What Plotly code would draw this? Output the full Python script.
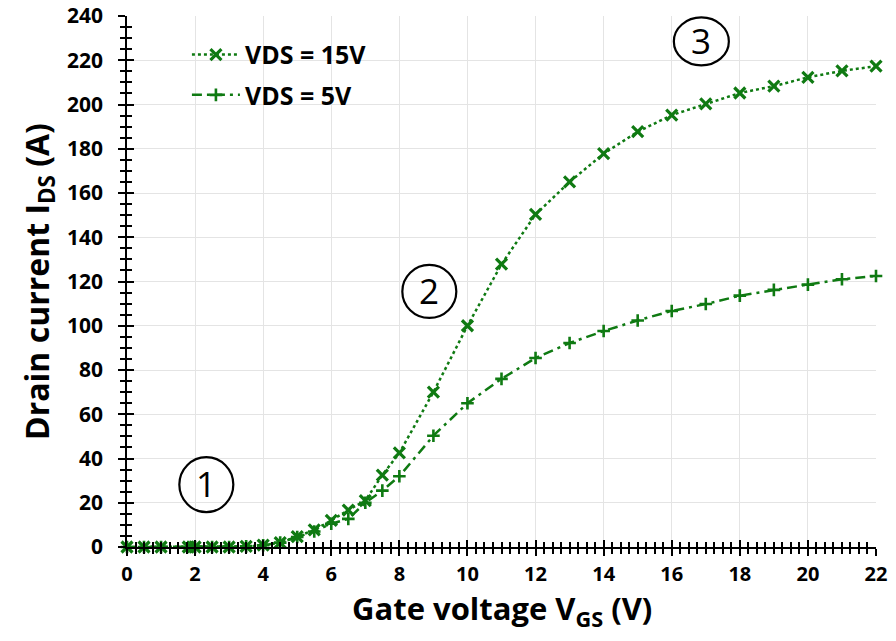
import plotly.graph_objects as go

# ---- data ----
vgs = [0, 0.5, 1, 1.8, 2, 2.5, 3, 3.5, 4, 4.5, 5, 5.5, 6, 6.5, 7, 7.5, 8,
       9, 10, 11, 12, 13, 14, 15, 16, 17, 18, 19, 20, 21, 22]
ids_vds15 = [0, 0, 0, 0, 0, 0, 0, 0.3, 0.8, 2, 4.7, 7.7, 12, 16.7, 21, 32.5, 42.5,
             70, 100, 127.8, 150.3, 165, 177.8, 187.7, 195.2, 200.3, 205.2, 208.3, 212.3, 215.2, 217.3]
ids_vds5 = [0, 0, 0, 0, 0, 0, 0, 0.3, 0.8, 2, 4.5, 7, 10.5, 12.7, 20, 25.5, 32,
            50.3, 65, 76, 85.4, 92.2, 97.6, 102.4, 106.7, 109.8, 113.6, 116.2, 118.6, 121, 122.5]
series_names = ["VDS = 15V", "VDS = 5V"]
x_title = "Gate voltage V<sub>GS</sub> (V)"
y_title = "Drain current I<sub>DS</sub> (A)"

# region labels (circled numbers): text, x (V), y (A)
region_labels = ["1", "2", "3"]
region_x = [2.33, 8.88, 16.87]
region_y = [28.2, 115.5, 228.5]
region_w = [54, 54, 55]
region_h = [55, 53, 48]

GREEN = "#0f7a12"
FONT = "Open Sans"

fig = go.Figure()
fig.add_trace(go.Scatter(
    x=vgs, y=ids_vds15, name=series_names[0], mode="lines+markers",
    line=dict(color=GREEN, width=2.5, dash="dot"),
    marker=dict(symbol="x-thin", size=11, color=GREEN, line=dict(color=GREEN, width=3.2)),
    cliponaxis=False, legend="legend"))
fig.add_trace(go.Scatter(
    x=vgs, y=ids_vds5, name=series_names[1], mode="lines+markers",
    line=dict(color=GREEN, width=2.5, dash="10px,5px,3px,5px"),
    marker=dict(symbol="cross-thin", size=9, color=GREEN, line=dict(color=GREEN, width=2.6)),
    cliponaxis=False, legend="legend2"))
# invisible trace to activate overlay axes (inner half of crossing ticks)
fig.add_trace(go.Scatter(x=[0], y=[0], xaxis="x2", yaxis="y2", mode="markers",
                         marker=dict(opacity=0), showlegend=False, hoverinfo="skip"))

for t, x, y, w, h in zip(region_labels, region_x, region_y, region_w, region_h):
    fig.add_shape(type="circle", xref="x", yref="y", xsizemode="pixel", ysizemode="pixel",
                  xanchor=x, yanchor=y, x0=-w / 2, x1=w / 2, y0=-h / 2, y1=h / 2,
                  line=dict(color="black", width=2.2))
    fig.add_annotation(x=x, y=y, xref="x", yref="y", text=t, showarrow=False,
                       font=dict(family="Open Sans", size=35, color="black"), yshift=1)

# x-axis title
fig.add_annotation(x=0.5, y=0, xref="paper", yref="paper", text=x_title, showarrow=False,
                   xanchor="center", yanchor="middle", yshift=-63,
                   font=dict(size=31, family=FONT, weight="bold", color="black"))

axis_common = dict(showline=True, linecolor="black", linewidth=1.6, automargin=False,
                   ticks="outside", tickcolor="black", tickwidth=1.6, ticklen=7)
inner_common = dict(showticklabels=False, showgrid=False, zeroline=False, showline=False,
                    automargin=False,
                    ticks="inside", ticklen=7, tickwidth=1.6, tickcolor="black")

fig.update_layout(
    width=896, height=641,
    margin=dict(l=127, r=20, t=16, b=94, autoexpand=False),
    plot_bgcolor="white", paper_bgcolor="white",
    font=dict(family=FONT, color="black"),
    xaxis=dict(range=[0, 22], dtick=2, tick0=0, showgrid=True, gridcolor="#e4e4e4", gridwidth=1,
               zeroline=False, tickfont=dict(size=20, family=FONT, weight="bold"),
               ticklabelstandoff=1,
               minor=dict(dtick=0.25, ticks="outside", ticklen=5, tickcolor="black", tickwidth=1.5,
                          showgrid=False),
               **axis_common),
    yaxis=dict(range=[0, 240], dtick=20, tick0=0, showgrid=True, gridcolor="#e4e4e4", gridwidth=1,
               zeroline=False, tickfont=dict(size=21, family=FONT, weight="bold"),
               ticklabelstandoff=11,
               title=dict(text=y_title, standoff=8,
                          font=dict(size=32, family=FONT, weight="bold")),
               minor=dict(dtick=5, ticks="outside", ticklen=5, tickcolor="black", tickwidth=1.5,
                          showgrid=False),
               **axis_common),
    xaxis2=dict(overlaying="x", matches="x", anchor="y", side="bottom", range=[0, 22],
                dtick=2, tick0=0,
                minor=dict(dtick=0.25, ticks="inside", ticklen=5, tickcolor="black", tickwidth=1.5,
                           showgrid=False),
                **inner_common),
    yaxis2=dict(overlaying="y", matches="y", anchor="x", side="left", range=[0, 240],
                dtick=20, tick0=0,
                minor=dict(dtick=5, ticks="inside", ticklen=5, tickcolor="black", tickwidth=1.5,
                           showgrid=False),
                **inner_common),
    legend=dict(x=0.08, y=0.927, xanchor="left", yanchor="middle", bgcolor="rgba(0,0,0,0)",
                itemwidth=48, font=dict(size=25, family=FONT, weight="bold")),
    legend2=dict(x=0.08, y=0.851, xanchor="left", yanchor="middle", bgcolor="rgba(0,0,0,0)",
                 itemwidth=48, font=dict(size=25, family=FONT, weight="bold")),
)

fig.write_html("out.html")
